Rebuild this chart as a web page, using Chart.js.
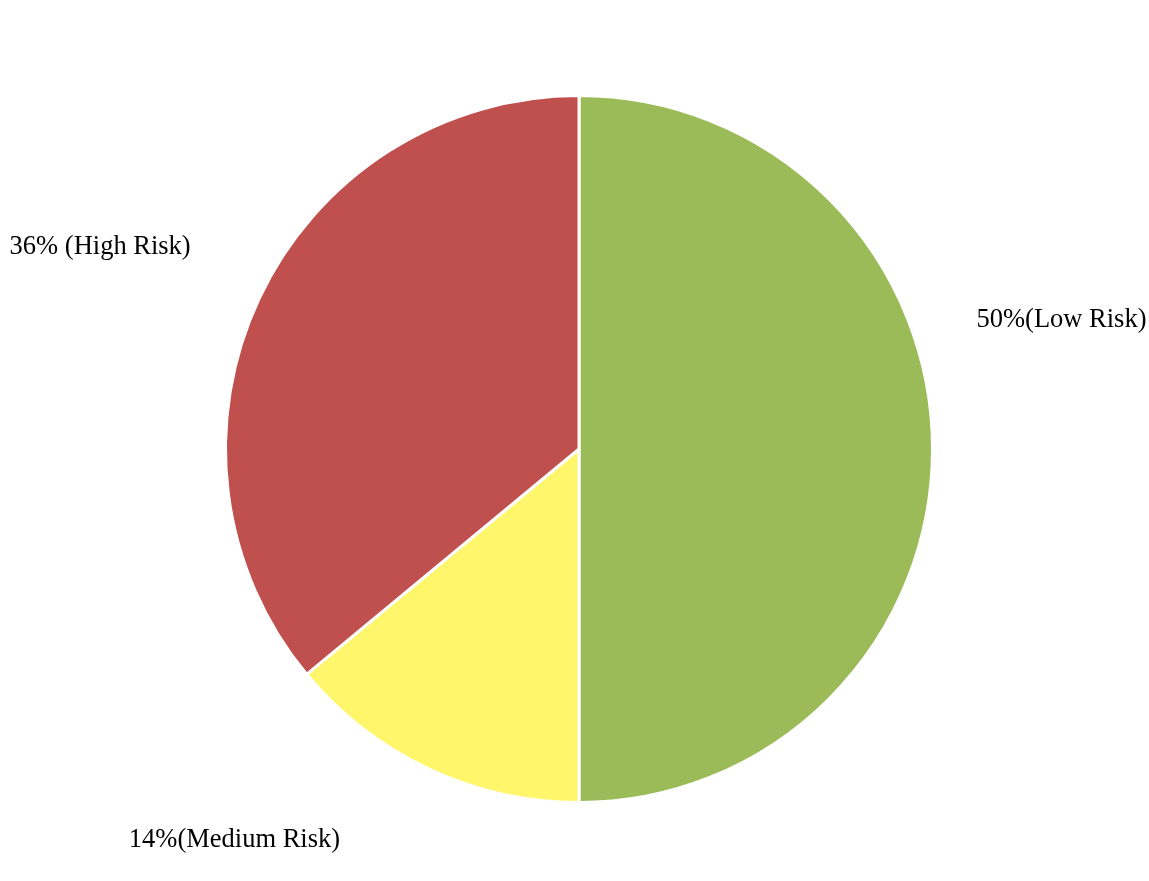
<!DOCTYPE html>
<html>
<head>
<meta charset="utf-8">
<script src="https://cdn.jsdelivr.net/npm/chart.js@4/dist/chart.umd.min.js"></script>
<style>
  html, body { margin: 0; padding: 0; background: #fff; }
  #wrap { width: 1149px; height: 881px; }
</style>
</head>
<body>
<div id="wrap"><canvas id="riskPie"></canvas></div>
<script>
// data
const categories = ['Low Risk', 'Medium Risk', 'High Risk'];
const shares = [50, 14, 36];
const sliceLabels = ['50%(Low Risk)', '14%(Medium Risk)', '36% (High Risk)'];
const sliceColors = ['#9BBB59', '#FFF66B', '#C0504D'];
// label nudge from the slice's outer mid point
const labelNudge = [[129, -129], [-194, 71], [-159, -51]];

const outsideLabels = {
	id: 'outsideLabels',
	afterDraw(chart) {
		const ctx = chart.ctx;
		const meta = chart.getDatasetMeta(0);
		ctx.save();
		ctx.font = '26.5px "Liberation Serif", "Times New Roman", serif';
		ctx.fillStyle = '#000';
		ctx.textAlign = 'center';
		ctx.textBaseline = 'middle';
		meta.data.forEach(function (arc, i) {
			const p = arc.getProps(['x', 'y', 'startAngle', 'endAngle', 'outerRadius'], true);
			const mid = (p.startAngle + p.endAngle) / 2;
			const x = p.x + Math.cos(mid) * p.outerRadius + labelNudge[i][0];
			const y = p.y + Math.sin(mid) * p.outerRadius + labelNudge[i][1];
			ctx.fillText(sliceLabels[i], x, y);
		});
		ctx.restore();
	}
};

let ctx = document.getElementById('riskPie').getContext('2d');
let chart = new Chart(ctx, {
	type: 'pie',
	data: {
		labels: categories,
		datasets: [{
			data: shares,
			backgroundColor: sliceColors,
			borderColor: '#fff',
			borderWidth: 3,
		}]
	},
	options: {
		animation: false,
		responsive: true,
		maintainAspectRatio: false,
		layout: {
			padding: { top: 94, bottom: 77, left: 9, right: 0 }
		},
		plugins: {
			legend: { display: false },
			tooltip: { enabled: false },
		}
	},
	plugins: [outsideLabels]
});
</script>
</body>
</html>
